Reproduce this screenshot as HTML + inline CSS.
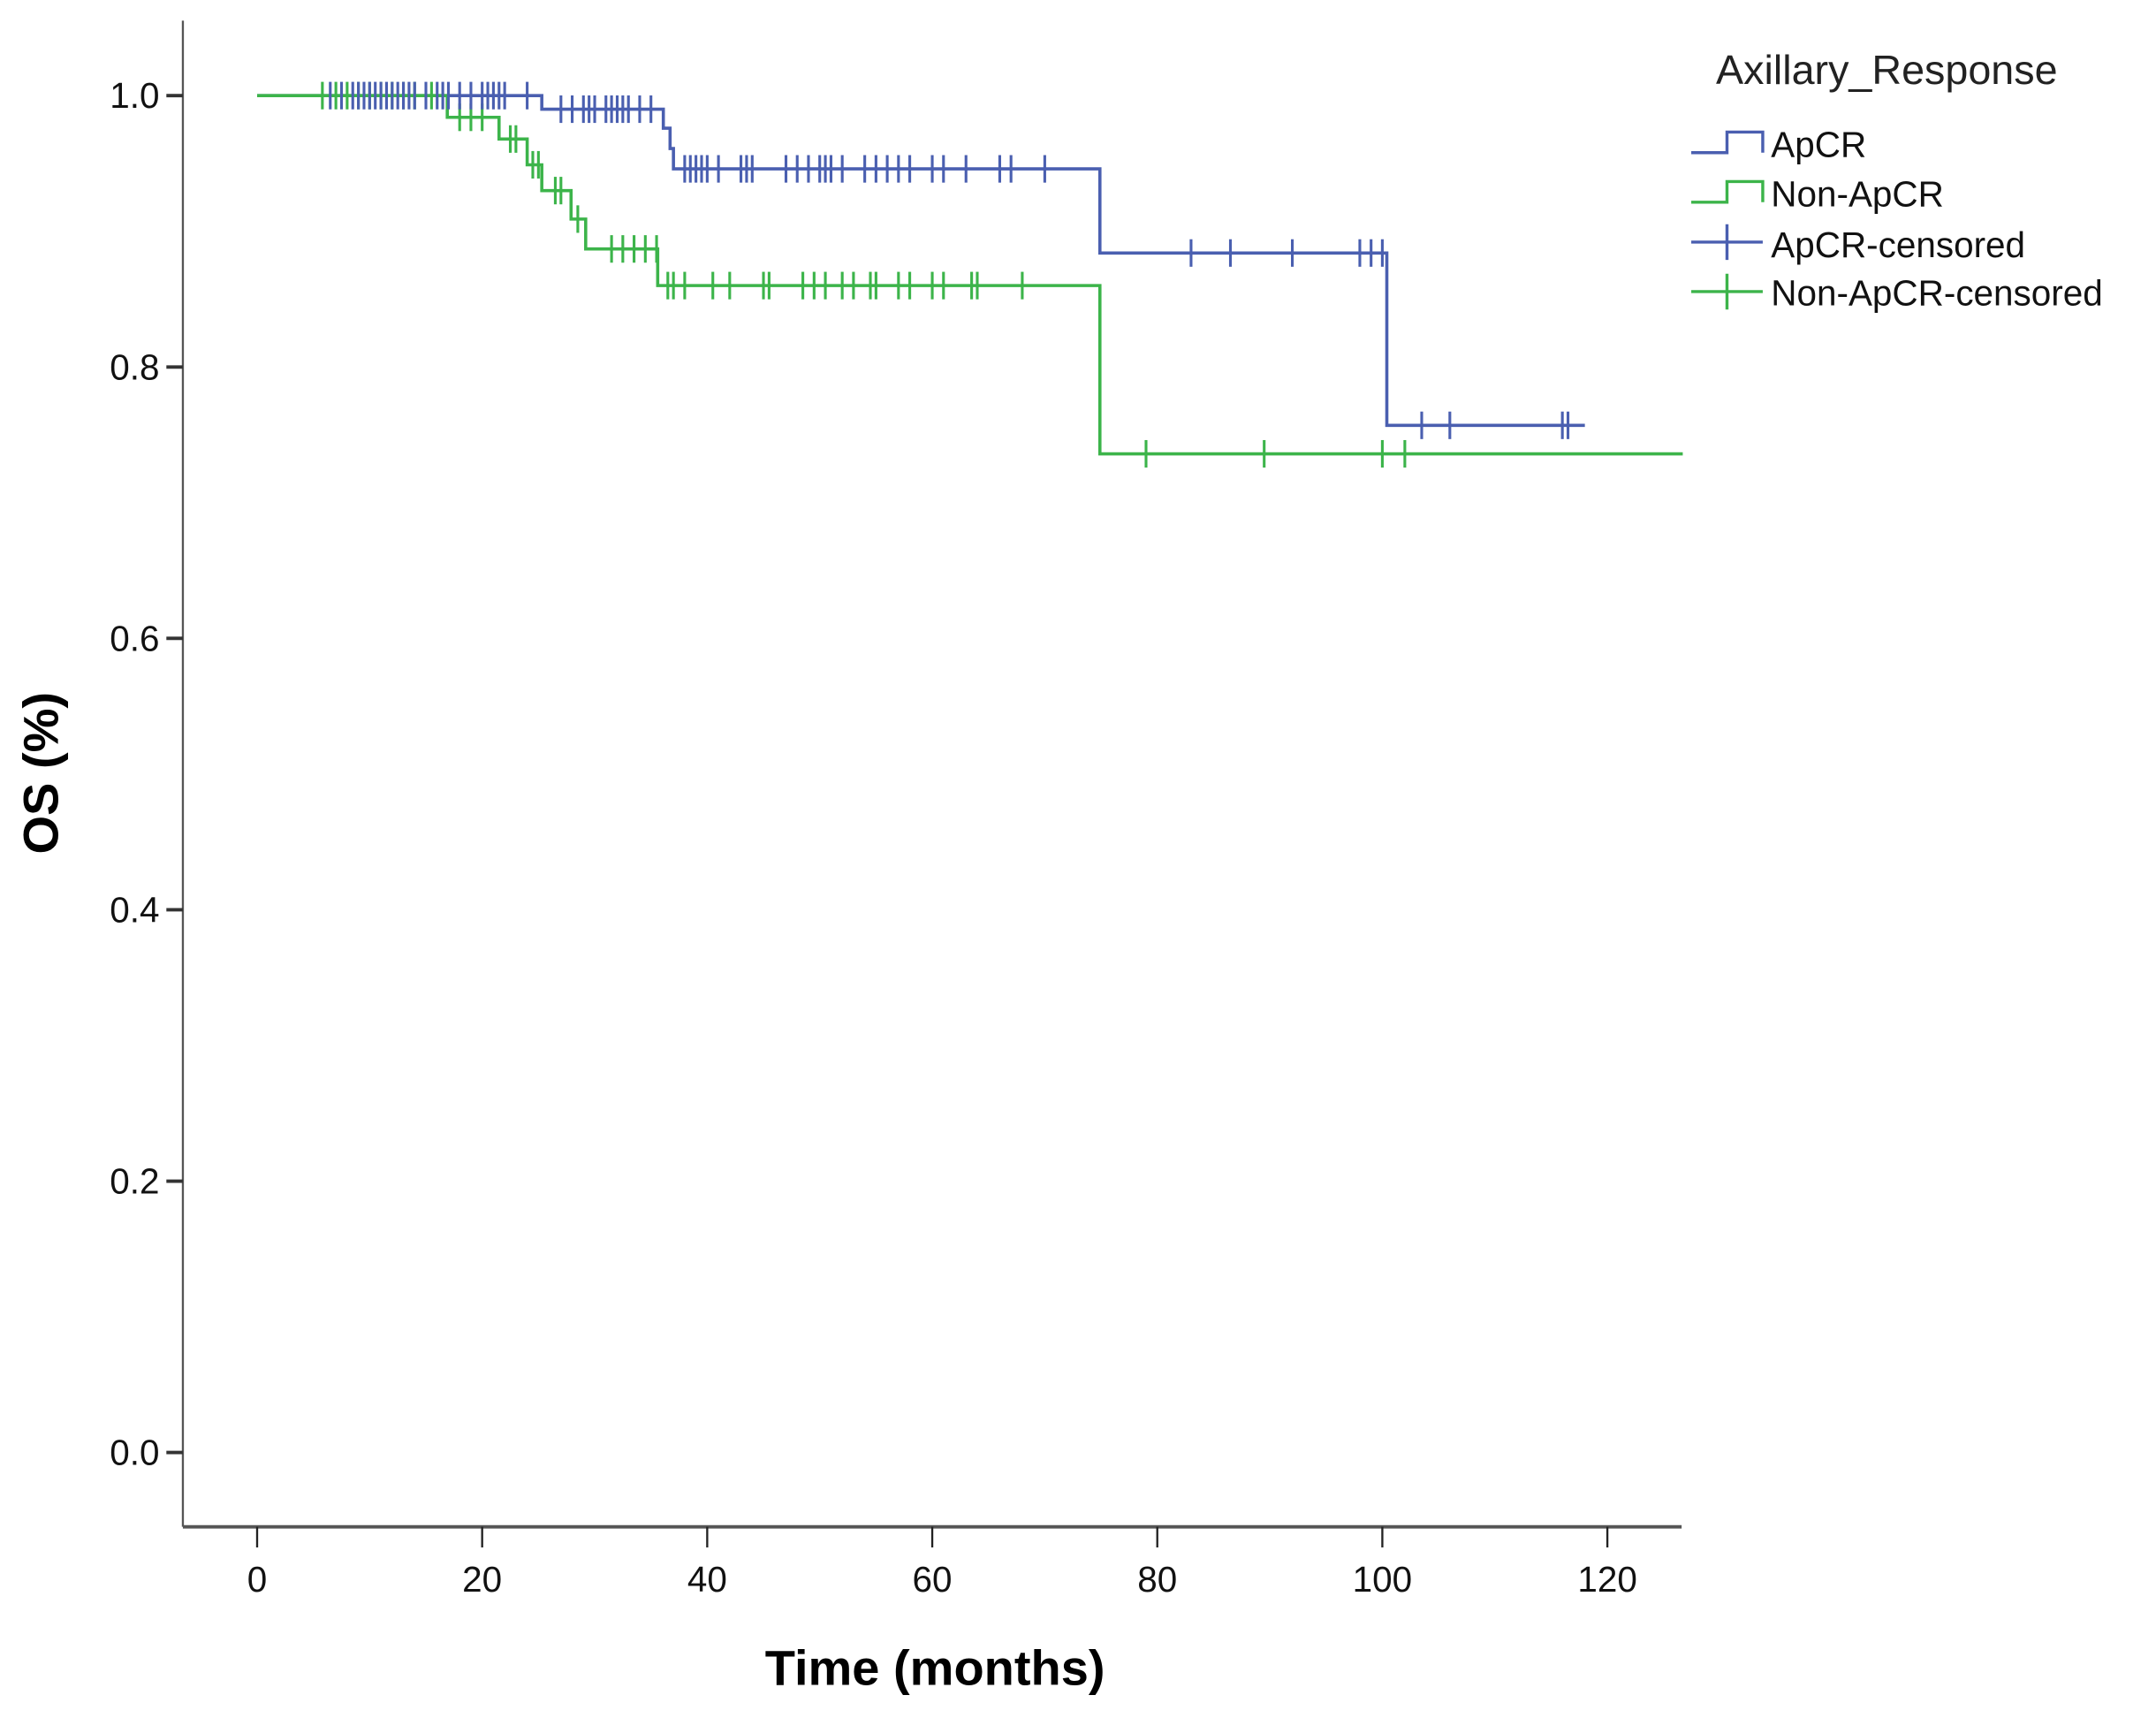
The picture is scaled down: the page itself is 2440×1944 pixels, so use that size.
<!DOCTYPE html>
<html><head><meta charset="utf-8"><style>
html,body{margin:0;padding:0;background:#fff;}
svg{display:block;}
text{font-family:"Liberation Sans",sans-serif;}
</style></head><body>
<svg id="chart" width="2440" height="1944" viewBox="0 0 1568 1249" preserveAspectRatio="none" xmlns="http://www.w3.org/2000/svg">
<g id="axes"></g>
<g id="series"></g>
<text x="0" y="0" transform="translate(42,562) rotate(-90)" text-anchor="middle" font-size="36" font-weight="bold" fill="#000">OS (%)</text>
<text x="680" y="1225" text-anchor="middle" font-size="36" font-weight="bold" fill="#000">Time (months)</text>
<g>
<text x="1248" y="61" font-size="30" fill="#222">Axillary_Response</text>
<g>
<path d="M1230,111 H1256 V96 H1282 V111" fill="none" stroke="#4a5fb0" stroke-width="2.2"/>
<text x="1288" y="114" font-size="26" fill="#111">ApCR</text></g>
<g>
<path d="M1230,147 H1256 V132 H1282 V147" fill="none" stroke="#3cb44a" stroke-width="2.2"/>
<text x="1288" y="150" font-size="26" fill="#111">Non-ApCR</text></g>
<g>
<path d="M1230,176 H1282 M1256,163 V189" fill="none" stroke="#4a5fb0" stroke-width="2.2"/>
<text x="1288" y="187" font-size="26" fill="#111">ApCR-censored</text></g>
<g>
<path d="M1230,212 H1282 M1256,199 V225" fill="none" stroke="#3cb44a" stroke-width="2.2"/>
<text x="1288" y="222" font-size="26" fill="#111">Non-ApCR-censored</text></g>
</g>
</svg>
<script>
const xTicks = [0, 20, 40, 60, 80, 100, 120];
const yTicks = [0.0, 0.2, 0.4, 0.6, 0.8, 1.0];
const yTickLabels = ["0.0", "0.2", "0.4", "0.6", "0.8", "1.0"];
const apcrStepTimes = [0, 25.3, 36.1, 36.7, 37.0, 74.9, 100.4];
const apcrStepSurv = [1.0, 0.990, 0.976, 0.961, 0.946, 0.884, 0.757];
const apcrEnd = 118;
const apcrCensored = [6.5,7.5,8.5,9,9.5,10,10.5,11,11.5,12,12.5,13,13.5,14,15,16,16.5,17,18,19,20,20.5,21,21.5,22,24,
 27,28,29,29.5,30,31,31.5,32,32.5,33,34,35,
 38,38.5,39,39.5,40,41,43,43.5,44,47,48,49,50,50.5,51,52,54,55,56,57,58,60,61,63,66,67,70,
 83,86.5,92,98,99,100,103.5,106,116,116.5];
const nonStepTimes = [0, 16.9, 21.5, 24.0, 25.3, 27.9, 29.2, 35.6, 74.9];
const nonStepSurv = [1.0, 0.984, 0.968, 0.949, 0.930, 0.909, 0.887, 0.860, 0.736];
const nonEnd = 126.7;
const nonCensored = [5.8,7,8,9,10,11,12,13,14,15.5,18,19,20,22.5,23,24.5,25,26.5,27,28.5,
 31.5,32.5,33.5,34.5,35.5,36.5,37,38,40.5,42,45,45.5,48.5,49.5,50.5,52,53,54.5,55,57,58,60,61,63.5,64,68,
 79,89.5,100,102];

const NS = "http://www.w3.org/2000/svg";
const X = t => 187 + t * 8.1833;
const Y = s => 1056 - s * 986.5;
function mk(tag, attrs, parent){const e=document.createElementNS(NS,tag);for(const k in attrs)e.setAttribute(k,attrs[k]);parent.appendChild(e);return e;}
const axes = document.getElementById('axes');
const series = document.getElementById('series');

const ya = mk('line',{x1:133,y1:15,x2:133,y2:1110,stroke:'#555','stroke-width':1.5},axes);


const xa = mk('line',{x1:133,y1:1110,x2:1223,y2:1110,stroke:'#555','stroke-width':2.5},axes);


xTicks.forEach(t=>{
  const l = mk('line',{x1:X(t),y1:1110,x2:X(t),y2:1125,stroke:'#222','stroke-width':1.5},axes);
  
  
  const tx = mk('text',{x:X(t),y:1157,'text-anchor':'middle','font-size':26,fill:'#111'},axes);
  
  
  tx.textContent = t;
});
yTicks.forEach((v,i)=>{
  const l = mk('line',{x1:121,y1:Y(v),x2:133,y2:Y(v),stroke:'#333','stroke-width':2.5},axes);
  
  
  const tx = mk('text',{x:116,y:Y(v)+9,'text-anchor':'end','font-size':26,fill:'#111'},axes);
  
  
  tx.textContent = yTickLabels[i];
});

function survAt(times, surv, t){let s=surv[0];for(let i=0;i<times.length;i++){if(times[i]<=t)s=surv[i];}return s;}
function drawCurve(times, surv, end, color, name){
  let d = 'M'+X(times[0])+','+Y(surv[0]);
  for(let i=1;i<times.length;i++){d+=' H'+X(times[i])+' V'+Y(surv[i]);}
  d += ' H'+X(end);
  const p = mk('path',{d:d,fill:'none',stroke:color,'stroke-width':2.3},series);
  
  
}
function drawCensors(times, surv, cens, color, name){
  cens.forEach(t=>{
    const y = Y(survAt(times,surv,t));
    const c = mk('line',{x1:X(t),y1:y-10,x2:X(t),y2:y+10,stroke:color,'stroke-width':2},series);
    
    
  });
}
drawCurve(apcrStepTimes, apcrStepSurv, apcrEnd, '#4a5fb0', 'apcr');
drawCurve(nonStepTimes, nonStepSurv, nonEnd, '#3cb44a', 'non-apcr');
drawCensors(nonStepTimes, nonStepSurv, nonCensored, '#3cb44a', 'non-apcr');
drawCensors(apcrStepTimes, apcrStepSurv, apcrCensored, '#4a5fb0', 'apcr');
</script>
</body></html>
